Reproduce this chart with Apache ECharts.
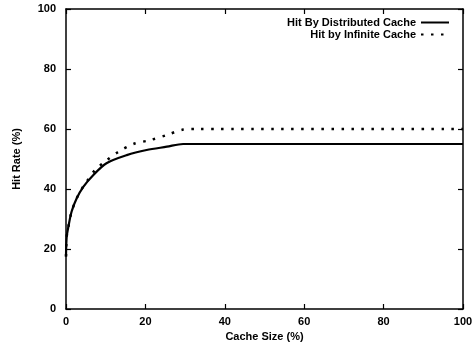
<!DOCTYPE html>
<html>
<head>
<meta charset="utf-8">
<script src="https://cdn.jsdelivr.net/npm/echarts@6/dist/echarts.min.js"></script>
<style>
  html, body { margin: 0; padding: 0; background: #fff; }
  #chart { width: 472px; height: 345px; }
</style>
</head>
<body>
<div id="chart"></div>
<script>
// cache size (%) and hit rate (%)
const distX = [0, 0.17, 0.6, 1.4, 2.7, 4.4, 6.9, 10.2, 15.3, 20.3, 25.4, 29.5, 33, 100];
const distY = [17.5, 24, 27.4, 32.4, 36.9, 40.8, 44.7, 48.6, 51.3, 53, 54.1, 55, 55, 55];
const infX = [0, 0.17, 0.6, 1.4, 2.7, 4.4, 5.2, 7.3, 9.8, 13.2, 17, 21.2, 25.4, 29.5, 33, 100];
const infY = [17.5, 24, 27.4, 32.4, 36.9, 41, 42.4, 46.3, 49.1, 52.4, 55, 56.3, 58, 59.8, 60, 60];
const seriesNames = ["Hit By Distributed Cache", "Hit by Infinite Cache"];

const font = "Liberation Sans, Arial, sans-serif";
const pairs = (xs, ys) => xs.map((x, i) => [x, ys[i]]);

const chart = echarts.init(document.getElementById("chart"), null, { renderer: "canvas" });

const axisBase = {
    type: "value",
    min: 0,
    max: 100,
    interval: 20,
    splitLine: { show: false },
    axisLine: { show: true, onZero: false, lineStyle: { color: "#000", width: 1.5 } },
    axisTick: { show: true, inside: true, length: 5, lineStyle: { color: "#000", width: 1.2 } },
};
const labelText = { fontFamily: font, fontSize: 11, color: "#000", fontWeight: "bold" };

chart.setOption({
    backgroundColor: "#fff",
    animation: false,
    textStyle: { fontFamily: font },
    grid: { left: 66, right: 9, top: 9, bottom: 36, outerBoundsMode: "none", containLabel: false },
    legend: {
        right: 17,
        top: 12,
        orient: "vertical",
        align: "right",
        itemGap: 1,
        itemWidth: 28,
        itemHeight: 11,
        itemStyle: { opacity: 0 },
        textStyle: { ...labelText, padding: [0, 0, 0, 0] },
        data: seriesNames,
    },
    xAxis: [
        {
            ...axisBase,
            position: "bottom",
            name: "Cache Size (%)",
            nameLocation: "middle",
            nameGap: 21,
            nameTextStyle: labelText,
            axisLabel: { ...labelText, margin: 7 },
        },
        { ...axisBase, position: "top", axisLabel: { show: false } },
    ],
    yAxis: [
        {
            ...axisBase,
            position: "left",
            name: "Hit Rate (%)",
            nameLocation: "middle",
            nameGap: 44,
            nameTextStyle: labelText,
            axisLabel: { ...labelText, margin: 10 },
        },
        { ...axisBase, position: "right", axisLabel: { show: false } },
    ],
    series: [
        {
            name: seriesNames[0],
            type: "line",
            data: pairs(distX, distY),
            smooth: 0.3,
            symbol: "none",
            lineStyle: { color: "#000", width: 2.2 },
            itemStyle: { color: "#000" },
        },
        {
            name: seriesNames[1],
            type: "line",
            data: pairs(infX, infY),
            smooth: 0.3,
            symbol: "none",
            lineStyle: { color: "#000", width: 2.5, type: [2.5, 7.5], cap: "butt" },
            itemStyle: { color: "#000" },
        },
    ],
});
</script>
</body>
</html>
